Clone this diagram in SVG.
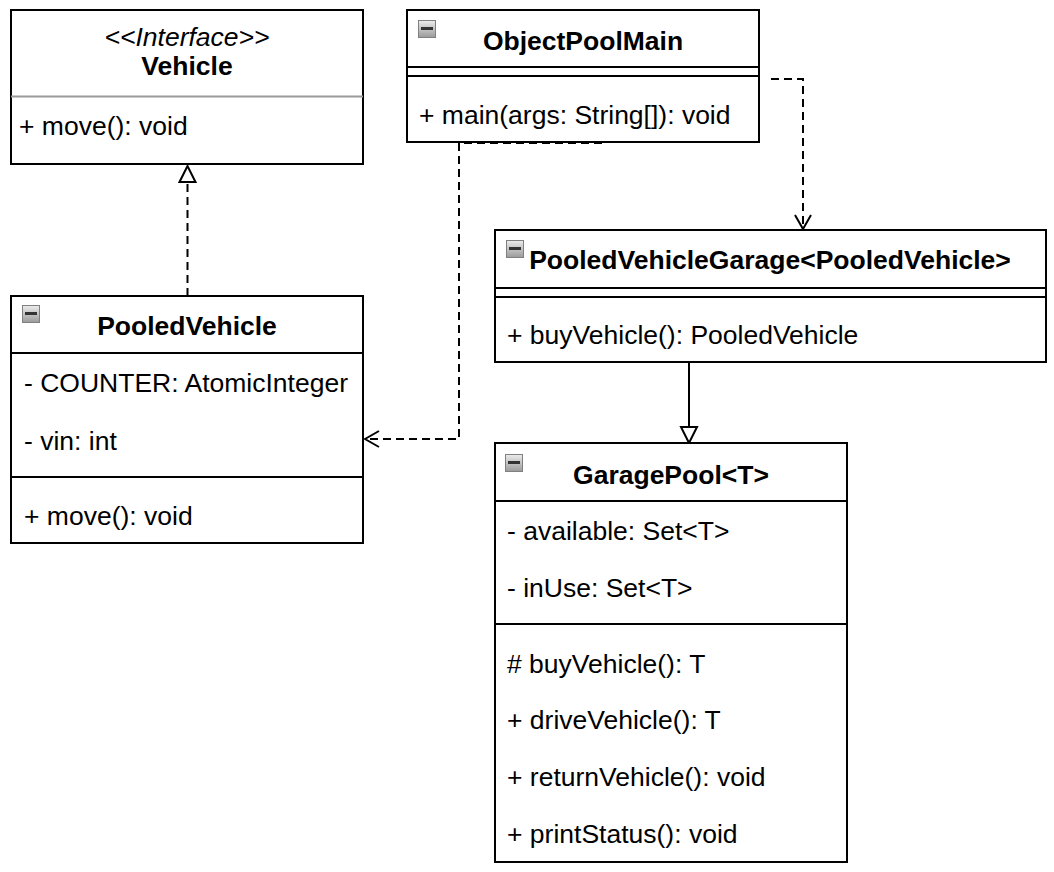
<svg xmlns="http://www.w3.org/2000/svg" xmlns:xlink="http://www.w3.org/1999/xlink" width="1054" height="872" viewBox="0 0 1054 872">
<style>
.box{fill:#fff;stroke:#000;stroke-width:2}
.sep{stroke:#000;stroke-width:2;fill:none}
.sepg{stroke:#999;stroke-width:2;fill:none}
text{font-family:"Liberation Sans",Arial,Helvetica,sans-serif;font-size:26.5px;fill:#000}
.t{font-weight:bold;text-anchor:middle}
.st{font-style:italic;text-anchor:middle}
.edge{fill:none;stroke:#000;stroke-width:2}
.dash{stroke-dasharray:8 5}
</style>
<defs>
<linearGradient id="ig" x1="0" y1="0" x2="0" y2="1"><stop offset="0" stop-color="#ececec"/><stop offset="1" stop-color="#9a9a9a"/></linearGradient>
<g id="icon"><rect x="0.5" y="0.5" width="17" height="17" fill="url(#ig)" stroke="#808080"/><rect x="3" y="7" width="12" height="3" fill="#333"/></g>
<marker id="open" markerUnits="userSpaceOnUse" viewBox="0 0 16 18" refX="15" refY="9" markerWidth="16" markerHeight="18" orient="auto"><path d="M1,1 L15,9 L1,17" fill="none" stroke="#000" stroke-width="2" stroke-dasharray="none"/></marker>
<marker id="tri" markerUnits="userSpaceOnUse" viewBox="0 0 18 20" refX="17" refY="10" markerWidth="18" markerHeight="20" orient="auto"><path d="M1,2 L17,10 L1,18 Z" fill="#fff" stroke="#000" stroke-width="2" stroke-dasharray="none"/></marker>
</defs>
<rect width="1054" height="872" fill="#fff"/>
<g id="connectors">
<path class="edge dash" d="M187.5 296 V 166" marker-end="url(#tri)"/>
<path class="edge dash" d="M771 79 H 803 V 229" marker-end="url(#open)"/>
<path class="edge dash" d="M602 143 H 459 V 439 H 365" marker-end="url(#open)"/>
<path class="edge" d="M689 363 V 443" marker-end="url(#tri)"/>
</g>
<g id="Vehicle">
<rect class="box" x="11" y="10" width="352" height="154"/>
<line class="sepg" x1="11" y1="96.5" x2="363" y2="96.5"/>
<text class="st" x="187" y="46">&lt;&lt;Interface&gt;&gt;</text>
<text class="t" x="187" y="75">Vehicle</text>
<text x="19" y="135">+ move(): void</text>
</g>
<g id="ObjectPoolMain">
<rect class="box" x="407" y="10" width="352" height="132"/>
<line class="sep" x1="407" y1="67" x2="759" y2="67"/>
<line class="sep" x1="407" y1="76" x2="759" y2="76"/>
<use xlink:href="#icon" x="418" y="20"/>
<text class="t" x="583" y="50">ObjectPoolMain</text>
<text x="419" y="124">+ main(args: String[]): void</text>
</g>
<g id="PooledVehicle">
<rect class="box" x="11" y="296" width="352" height="247"/>
<line class="sep" x1="11" y1="353" x2="363" y2="353"/>
<line class="sep" x1="11" y1="477" x2="363" y2="477"/>
<use xlink:href="#icon" x="22" y="305"/>
<text class="t" x="187" y="335">PooledVehicle</text>
<text x="24" y="392">- COUNTER: AtomicInteger</text>
<text x="24" y="450">- vin: int</text>
<text x="24" y="525">+ move(): void</text>
</g>
<g id="PooledVehicleGarage">
<rect class="box" x="495" y="230" width="551" height="132"/>
<line class="sep" x1="495" y1="288" x2="1046" y2="288"/>
<line class="sep" x1="495" y1="297" x2="1046" y2="297"/>
<use xlink:href="#icon" x="506" y="240"/>
<text class="t" x="770" y="269">PooledVehicleGarage&lt;PooledVehicle&gt;</text>
<text x="507" y="344">+ buyVehicle(): PooledVehicle</text>
</g>
<g id="GaragePool">
<rect class="box" x="495" y="443" width="352" height="419"/>
<line class="sep" x1="495" y1="501" x2="847" y2="501"/>
<line class="sep" x1="495" y1="624" x2="847" y2="624"/>
<use xlink:href="#icon" x="505" y="454"/>
<text class="t" x="671" y="484">GaragePool&lt;T&gt;</text>
<text x="507" y="540">- available: Set&lt;T&gt;</text>
<text x="507" y="597">- inUse: Set&lt;T&gt;</text>
<text x="507" y="673"># buyVehicle(): T</text>
<text x="507" y="729">+ driveVehicle(): T</text>
<text x="507" y="786">+ returnVehicle(): void</text>
<text x="507" y="843">+ printStatus(): void</text>
</g>
</svg>
